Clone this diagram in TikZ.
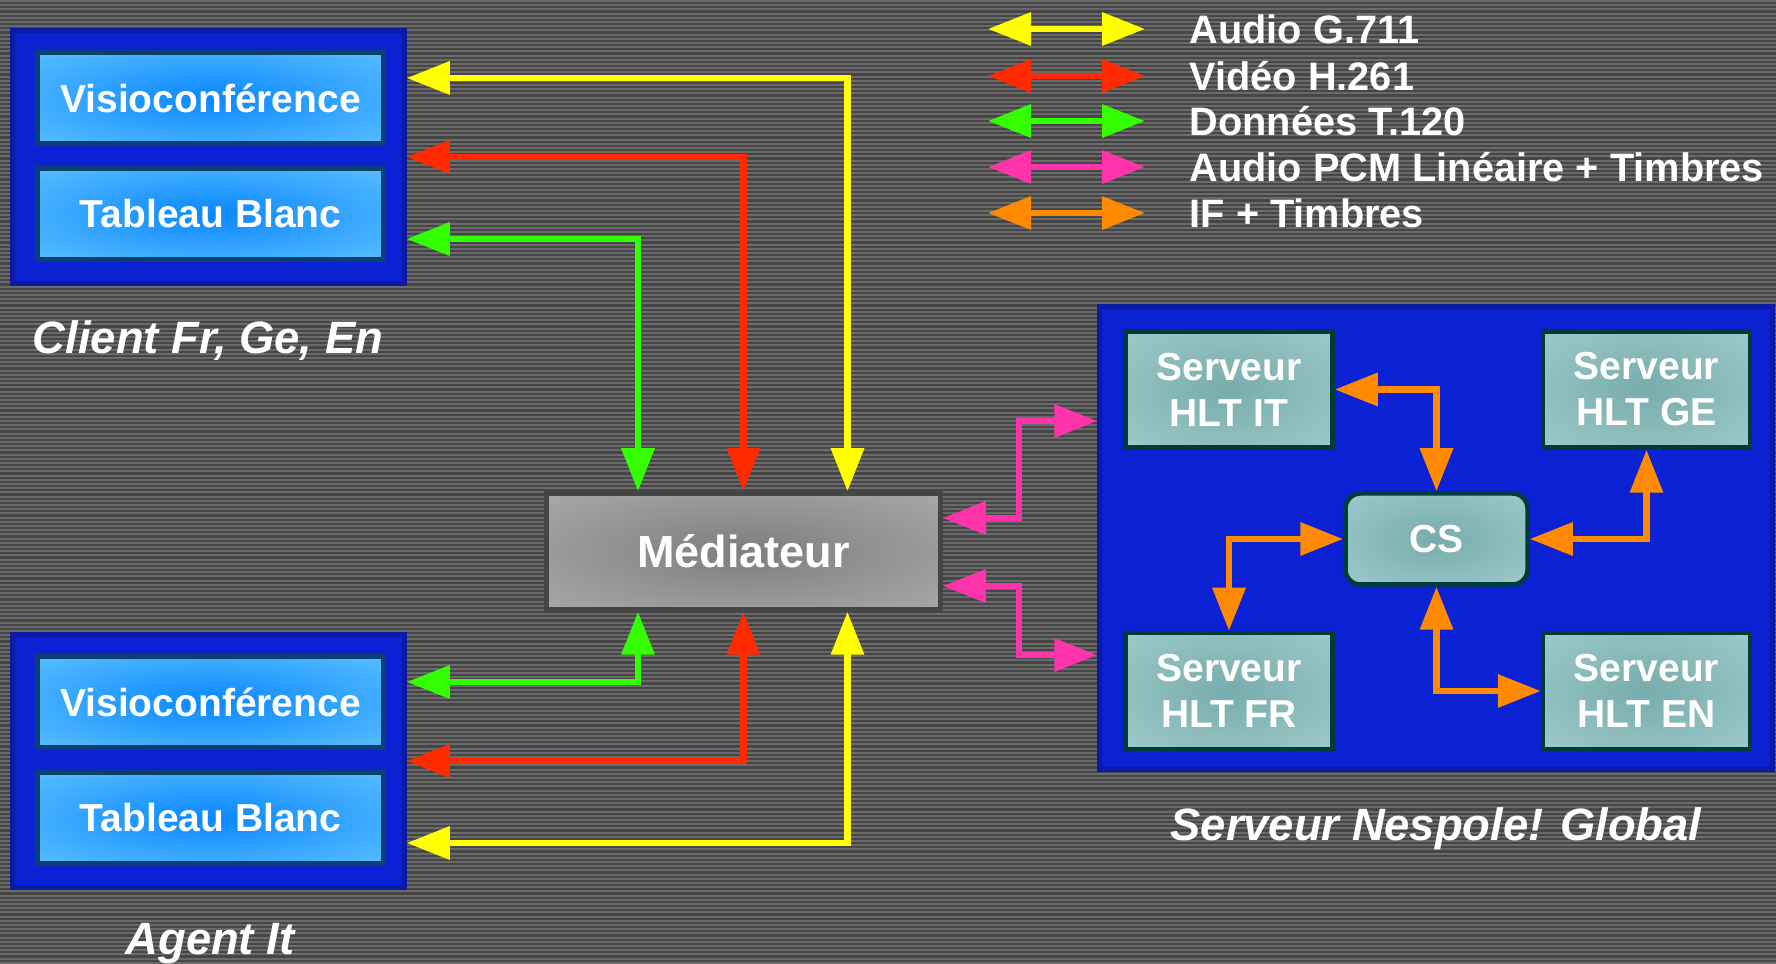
\documentclass[tikz,border=0pt]{standalone}
\usepackage{fontspec}
\setmainfont{Liberation Sans}
\usetikzlibrary{arrows.meta, positioning}

\definecolor{bgdark}{HTML}{464646}
\definecolor{bglight}{HTML}{6A6A6A}
\definecolor{grpblue}{HTML}{0A22D4}
\definecolor{grpline}{HTML}{0B1BA6}
\definecolor{appin}{HTML}{0A88FF}
\definecolor{appout}{HTML}{6FCDFF}
\definecolor{appline}{HTML}{0A3F73}
\definecolor{hltin}{HTML}{78ACAC}
\definecolor{hltout}{HTML}{A8D2D2}
\definecolor{hltline}{HTML}{003D3A}
\definecolor{medin}{HTML}{7E7E7E}
\definecolor{medout}{HTML}{B4B4B4}
\definecolor{medline}{HTML}{454545}
\definecolor{audioc}{HTML}{FFFF00}
\definecolor{videoc}{HTML}{FF2A00}
\definecolor{datac}{HTML}{33FF00}
\definecolor{pcmc}{HTML}{FF33AA}
\definecolor{ifc}{HTML}{FF8A00}

\pgfdeclareradialshading{appglow}{\pgfpoint{0bp}{0bp}}{color(0bp)=(appin); color(46bp)=(appout); color(50bp)=(appout)}
\pgfdeclareradialshading{hltglow}{\pgfpoint{0bp}{0bp}}{color(0bp)=(hltin); color(46bp)=(hltout); color(50bp)=(hltout)}
\pgfdeclareradialshading{medglow}{\pgfpoint{0bp}{0bp}}{color(0bp)=(medin); color(46bp)=(medout); color(50bp)=(medout)}

\begin{document}
\begin{tikzpicture}[
  x=0.1mm, y=-0.1mm,
  font=\bfseries\fontsize{11.1}{13.1}\selectfont,
  text=white,
  link/.style={line width=0.65mm,
    {Triangle[length=4.3mm, width=3.2mm]}-{Triangle[length=4.3mm, width=3.2mm]}},
  audio/.style={link, draw=audioc},
  video/.style={link, draw=videoc},
  data/.style={link, draw=datac},
  pcm/.style={link, draw=pcmc},
  ifx/.style={link, draw=ifc},
  group/.style={draw=grpline, fill=grpblue, line width=0.45mm, inner sep=0pt},
  app/.style={draw=appline, line width=0.45mm, shading=appglow,
    minimum width=34.6mm, minimum height=9.1mm},
  hlt/.style={draw=hltline, line width=0.45mm, shading=hltglow,
    minimum width=20.7mm, minimum height=11.6mm, align=center},
  mediator/.style={draw=medline, line width=0.45mm, shading=medglow,
    minimum width=39.4mm, minimum height=11.6mm,
    font=\bfseries\fontsize{12.8}{15}\selectfont},
  caption/.style={font=\bfseries\itshape\fontsize{12.9}{15}\selectfont},
  legend/.style={inner sep=0pt, font=\bfseries\fontsize{11.3}{13}\selectfont}
]
\useasboundingbox (0,0) rectangle (1776,964);
% striped backdrop
\fill[bgdark] (0,0) rectangle (1776,964);
\foreach \k in {0,...,229}
  \fill[bglight] (0,{\k*4.2}) rectangle (1776,{\k*4.2+2.1});

% clients
\node[group, minimum width=39.2mm, minimum height=25.3mm] (client) at (208.5,157) {};
\node[app] (cvisio) at (210.5,98) {Visioconférence};
\node[app] (ctab)   at (210.5,214) {Tableau Blanc};
\node[caption] (cclient) at (208,341) {Client Fr, Ge, En};

\node[group, minimum width=39.2mm, minimum height=25.3mm] (agent) at (208.5,761) {};
\node[app] (avisio) at (210.5,702) {Visioconférence};
\node[app] (atab)   at (210.5,818) {Tableau Blanc};
\node[caption] (cagent) at (210,944) {Agent It};

\node[mediator] (medi) at (743.5,551.5) {Médiateur};

% server side
\node[group, minimum width=67.3mm, minimum height=46.3mm] (server) at (1436,538) {};
\node[hlt] (hltit) at (1229,389.5)   {Serveur\\HLT IT};
\node[hlt] (hltge) at (1646.5,389.5) {Serveur\\HLT GE};
\node[hlt] (hltfr) at (1229,691)     {Serveur\\HLT FR};
\node[hlt] (hlten) at (1646.5,691)   {Serveur\\HLT EN};
\node[hlt, rounded corners=1.5mm, minimum width=18.2mm, minimum height=9.1mm]
  (cs) at (1436.5,539) {CS};
\node[caption] (cserver) at (1436,829) {Serveur Nespole! Global};

% client <-> mediator
\draw[audio] ([xshift=10.4mm]medi.north) |- ([yshift=7.9mm]client.east);
\draw[video] (medi.north) |- (client.east);
\draw[data]  ([xshift=-10.55mm]medi.north) |- ([yshift=-8.2mm]client.east);
% agent <-> mediator
\draw[data]  ([xshift=-10.55mm]medi.south) |- ([yshift=7.9mm]agent.east);
\draw[video] (medi.south) |- (agent.east);
\draw[audio] ([xshift=10.4mm]medi.south) |- ([yshift=-8.2mm]agent.east);

% mediator <-> server, both legs turn at the same x
\coordinate (pj) at (1019,538);
\draw[pcm] ([yshift=3.35mm]medi.east) -- ([yshift=3.35mm]medi.east -| pj)
  |- ([yshift=11.7mm]server.west);
\draw[pcm] ([yshift=-3.45mm]medi.east) -- ([yshift=-3.45mm]medi.east -| pj)
  |- ([yshift=-11.7mm]server.west);

% inside the server
\draw[ifx] (cs.north) |- (hltit.east);
\draw[ifx] (cs.east) -| (hltge.south);
\draw[ifx] (hltfr.north) |- (cs.west);
\draw[ifx] (cs.south) |- (hlten.west);

% legend
\foreach \y/\kind/\txt [count=\i] in {29/audio/Audio G.711, 76/video/Vidéo H.261,
    121/data/Données T.120, 167/pcm/Audio PCM Linéaire + Timbres, 213/ifx/IF + Timbres} {
  \node[legend, anchor=west] (leg\i) at (1189,\y) {\txt};
  \draw[\kind] ([xshift=-4.4mm]leg\i.west) -- ++(-157,0);
}
\end{tikzpicture}
\end{document}
